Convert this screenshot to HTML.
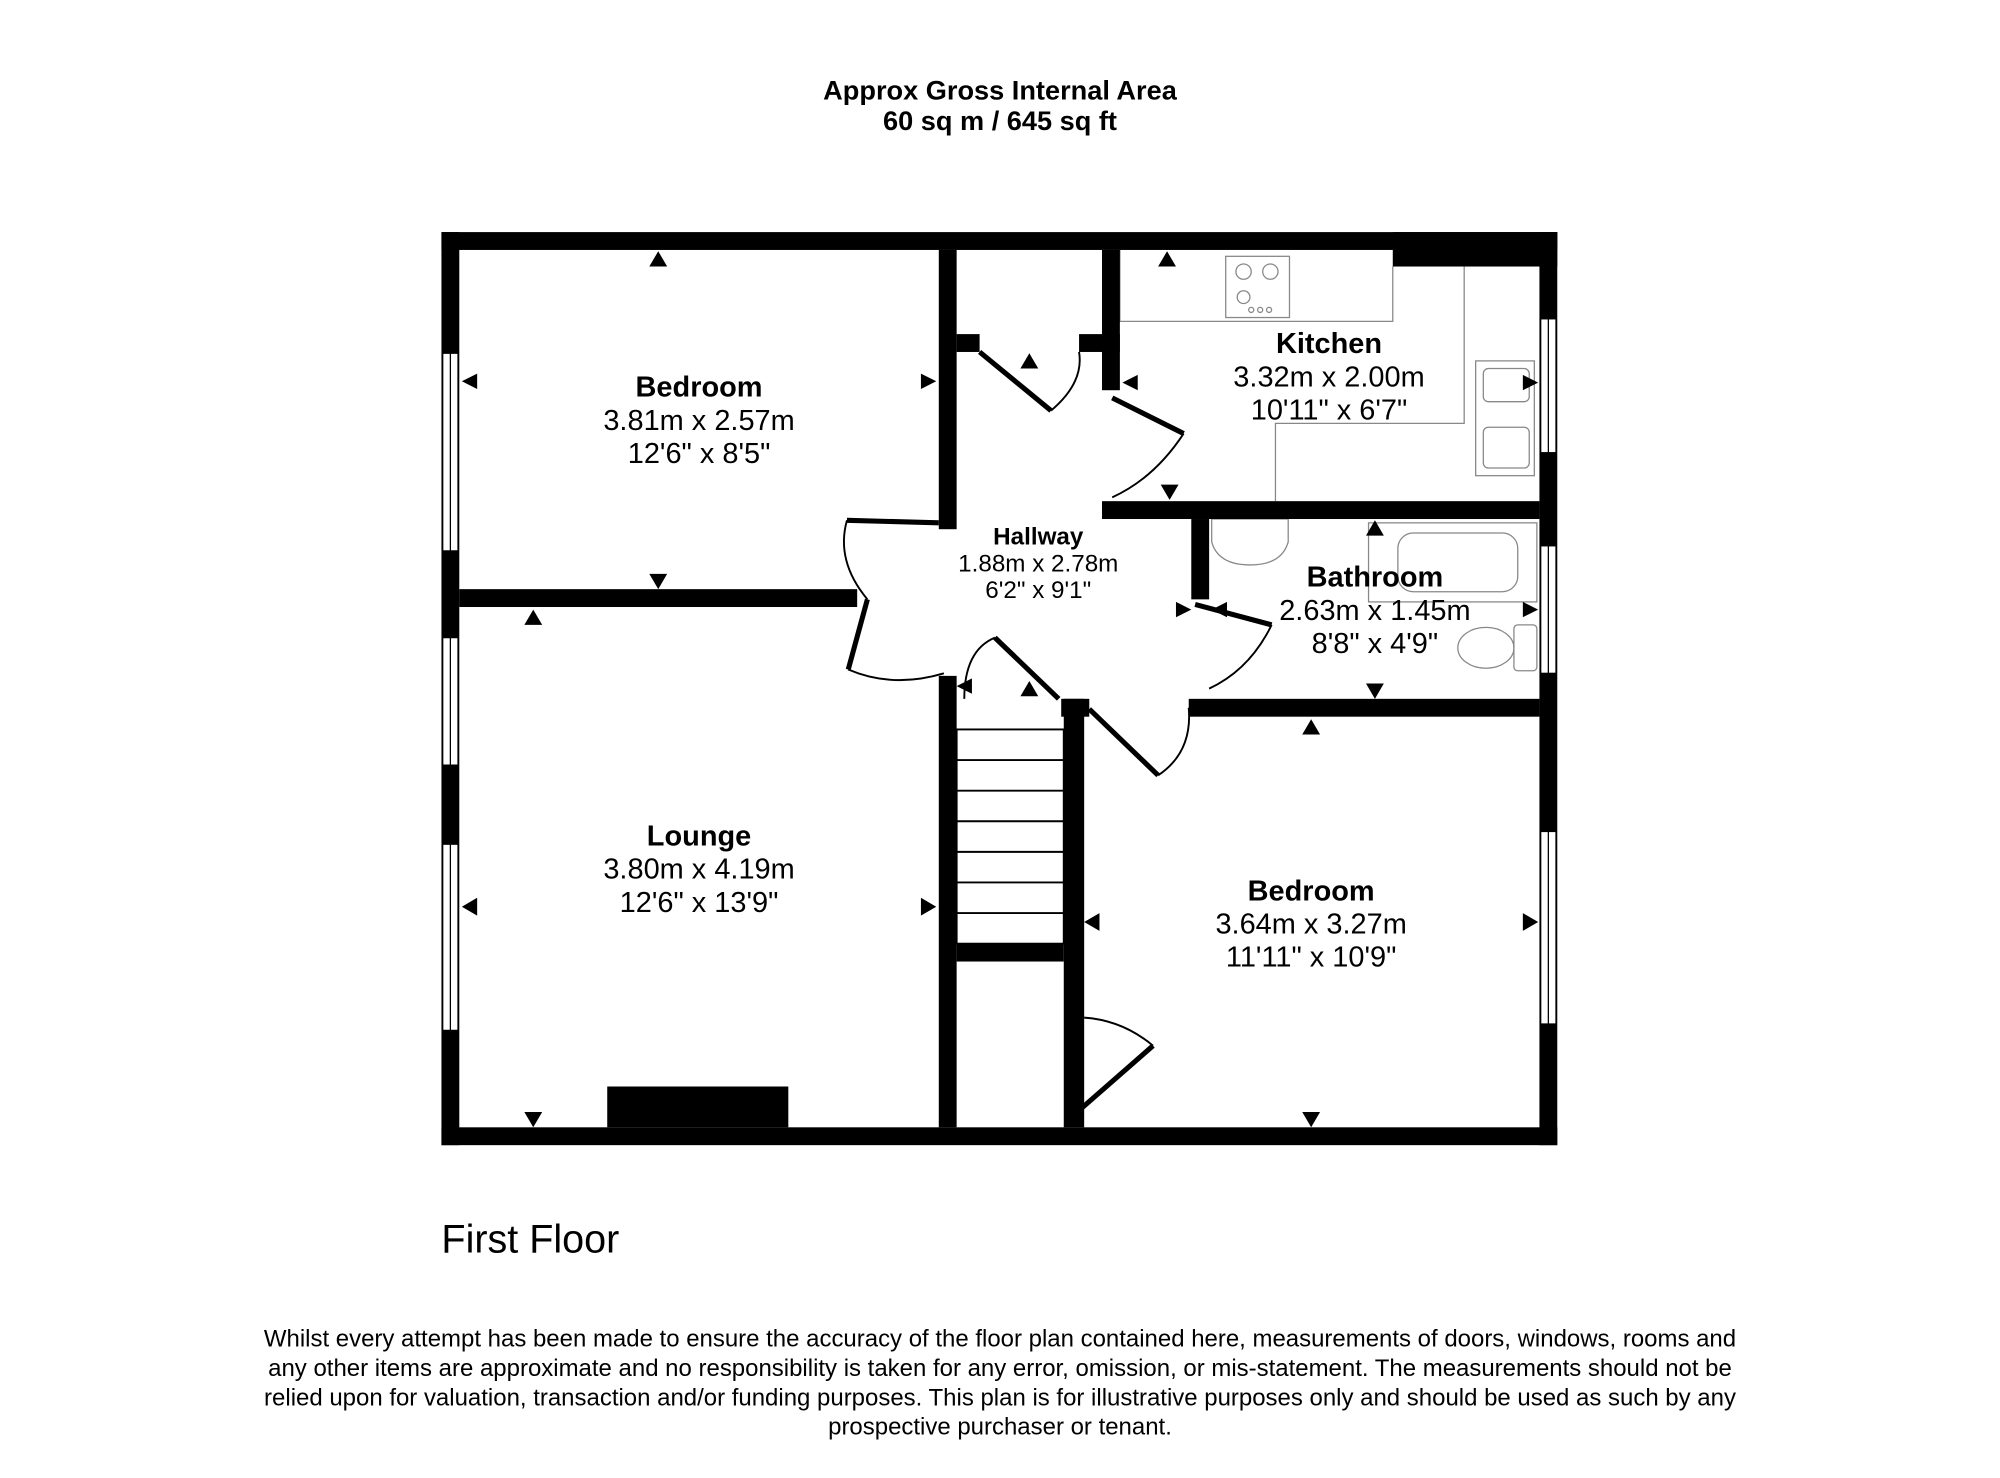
<!DOCTYPE html>
<html><head><meta charset="utf-8"><style>
html,body{margin:0;padding:0;background:#fff}
svg{display:block}
text{font-family:"Liberation Sans",Arial,sans-serif;fill:#000}
.b{font-weight:bold}
</style></head><body>
<svg width="2000" height="1478" viewBox="0 0 1568 1159" xmlns="http://www.w3.org/2000/svg">
<text x="784" y="78" text-anchor="middle" class="b" font-size="21.3">Approx Gross Internal Area</text>
<text x="784" y="102" text-anchor="middle" class="b" font-size="21.3">60 sq m / 645 sq ft</text>

<g fill="none" stroke="#888" stroke-width="1">
<polyline points="878,196 878,252 1092,252 1092,209"/>
<polyline points="1148,209 1148,332 1000,332 1000,393"/>
<rect x="961" y="201" width="50" height="48"/>
<circle cx="975" cy="213" r="6"/><circle cx="996" cy="213" r="6"/>
<circle cx="975" cy="233" r="5"/><circle cx="988" cy="243" r="2"/><circle cx="981" cy="243" r="2"/><circle cx="995" cy="243" r="2"/>
<rect x="1157" y="283" width="46" height="90"/>
<rect x="1163" y="289" width="36" height="26" rx="4"/><rect x="1163" y="335" width="36" height="32" rx="4"/>
<path d="M950,407 L1010,407 L1010,425 Q1005,443 980,443 Q955,443 950,425 Z"/>
<rect x="1073" y="410" width="132" height="62"/>
<rect x="1096" y="418" width="94" height="46" rx="12"/>
<rect x="1187" y="490" width="18" height="36" rx="3"/>
<ellipse cx="1165" cy="508" rx="22" ry="16"/>
</g>

<g fill="#000">
<rect x="346" y="182" width="875" height="14"/>
<rect x="1092" y="182" width="129" height="27"/>
<rect x="346" y="182" width="14" height="716"/>
<rect x="346" y="884" width="875" height="14"/>
<rect x="1207" y="182" width="14" height="716"/>
<rect x="360" y="462" width="312" height="14"/>
<rect x="736" y="196" width="14" height="219"/>
<rect x="750" y="262" width="18" height="14"/>
<rect x="846" y="262" width="32" height="14"/>
<rect x="864" y="196" width="14" height="110"/>
<rect x="864" y="393" width="343" height="14"/>
<rect x="934" y="407" width="14" height="63"/>
<rect x="932" y="548" width="275" height="14"/>
<rect x="736" y="530" width="14" height="354"/>
<rect x="834" y="548" width="16" height="336"/>
<rect x="832" y="548" width="22" height="14"/>
<rect x="750" y="740" width="84" height="14"/>
<rect x="476" y="852" width="142" height="32"/>
</g>
<g fill="#fff" stroke="#000" stroke-width="1">
<rect x="347" y="277" width="12" height="155"/>
<rect x="347" y="500" width="12" height="100"/>
<rect x="347" y="662" width="12" height="146"/>
<rect x="1208" y="250" width="12" height="105"/>
<rect x="1208" y="428" width="12" height="100"/>
<rect x="1208" y="652" width="12" height="151"/>
</g>
<g stroke="#000" stroke-width="1">
<line x1="353" y1="277" x2="353" y2="432"/><line x1="353" y1="500" x2="353" y2="600"/><line x1="353" y1="662" x2="353" y2="808"/>
<line x1="1214" y1="250" x2="1214" y2="355"/><line x1="1214" y1="428" x2="1214" y2="528"/><line x1="1214" y1="652" x2="1214" y2="803"/>
</g>
<g stroke="#000" stroke-width="1.5" fill="none">
<rect x="750" y="572" width="84" height="168"/>
<line x1="750" y1="596" x2="834" y2="596"/><line x1="750" y1="620" x2="834" y2="620"/>
<line x1="750" y1="644" x2="834" y2="644"/><line x1="750" y1="668" x2="834" y2="668"/>
<line x1="750" y1="692" x2="834" y2="692"/><line x1="750" y1="716" x2="834" y2="716"/>
</g>
<g stroke="#000" fill="none">
<g stroke-width="4">
<line x1="736" y1="410" x2="664" y2="408"/>
<line x1="680" y1="470" x2="665" y2="525"/>
<line x1="768" y1="276" x2="824" y2="322"/>
<line x1="872" y1="312" x2="928" y2="340"/>
<line x1="937" y1="474" x2="997" y2="490"/>
<line x1="780" y1="500" x2="830" y2="548"/>
<line x1="854" y1="556" x2="908" y2="608"/>
<line x1="840" y1="876" x2="904" y2="820"/>
</g>
<g stroke-width="1.5">
<path d="M664,408 Q655,440 680,470"/>
<path d="M665,525 Q700,540 740,528"/>
<path d="M824,322 Q850,300 846,276"/>
<path d="M928,340 Q905,375 872,390"/>
<path d="M997,490 Q980,525 948,540"/>
<path d="M780,500 Q756,510 756,548"/>
<path d="M908,608 Q935,590 932,555"/>
<path d="M904,820 Q880,800 850,798"/>
</g>
</g>
<g fill="#000">
<path d="M509,209 L523,209 L516,197 Z"/><path d="M509,450 L523,450 L516,462 Z"/>
<path d="M374,293 L374,305 L362,299 Z"/><path d="M722,293 L722,305 L734,299 Z"/>
<path d="M411,490 L425,490 L418,478 Z"/><path d="M411,872 L425,872 L418,884 Z"/>
<path d="M374,704 L374,718 L362,711 Z"/><path d="M722,704 L722,718 L734,711 Z"/>
<path d="M908,209 L922,209 L915,197 Z"/><path d="M910,380 L924,380 L917,392 Z"/>
<path d="M892,294 L892,306 L880,300 Z"/><path d="M1194,294 L1194,306 L1206,300 Z"/>
<path d="M800,289 L814,289 L807,277 Z"/>
<path d="M1071,420 L1085,420 L1078,408 Z"/><path d="M1071,536 L1085,536 L1078,548 Z"/>
<path d="M962,472 L962,484 L950,478 Z"/><path d="M1194,472 L1194,484 L1206,478 Z"/>
<path d="M922,472 L922,484 L934,478 Z"/>
<path d="M762,532 L762,544 L750,538 Z"/><path d="M800,546 L814,546 L807,534 Z"/>
<path d="M1021,576 L1035,576 L1028,564 Z"/><path d="M1021,872 L1035,872 L1028,884 Z"/>
<path d="M862,716 L862,730 L850,723 Z"/><path d="M1194,716 L1194,730 L1206,723 Z"/>
</g>
<g text-anchor="middle" font-size="22.7">
<text x="548" y="311" class="b">Bedroom</text><text x="548" y="337">3.81m x 2.57m</text><text x="548" y="363">12'6" x 8'5"</text>
<text x="1042" y="277" class="b">Kitchen</text><text x="1042" y="303">3.32m x 2.00m</text><text x="1042" y="329">10'11" x 6'7"</text>
<text x="1078" y="460" class="b">Bathroom</text><text x="1078" y="486">2.63m x 1.45m</text><text x="1078" y="512">8'8" x 4'9"</text>
<text x="548" y="663" class="b">Lounge</text><text x="548" y="689">3.80m x 4.19m</text><text x="548" y="715">12'6" x 13'9"</text>
<text x="1028" y="706" class="b">Bedroom</text><text x="1028" y="732">3.64m x 3.27m</text><text x="1028" y="758">11'11" x 10'9"</text>
</g>
<g text-anchor="middle" font-size="19">
<text x="814" y="427" class="b">Hallway</text><text x="814" y="448">1.88m x 2.78m</text><text x="814" y="469">6'2" x 9'1"</text>
</g>
<text x="346" y="982" font-size="31">First Floor</text>
<g text-anchor="middle" font-size="18.8">
<text x="784" y="1056">Whilst every attempt has been made to ensure the accuracy of the floor plan contained here, measurements of doors, windows, rooms and</text>
<text x="784" y="1079">any other items are approximate and no responsibility is taken for any error, omission, or mis-statement. The measurements should not be</text>
<text x="784" y="1102">relied upon for valuation, transaction and/or funding purposes. This plan is for illustrative purposes only and should be used as such by any</text>
<text x="784" y="1125">prospective purchaser or tenant.</text>
</g>
</svg>
</body></html>
